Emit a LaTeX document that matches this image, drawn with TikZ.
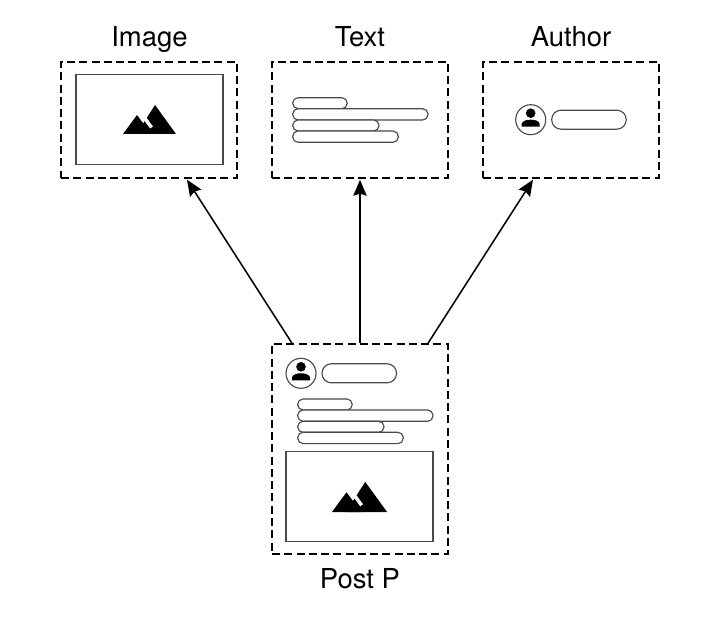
\documentclass[tikz,border=0pt]{standalone}
\usepackage{fontspec}
\setmainfont{TeX Gyre Heros}
\usetikzlibrary{calc,arrows.meta}
\definecolor{linegray}{HTML}{4A4A4A}
\tikzset{
  x=0.75pt,y=-0.75pt,
  ar/.style={-{Stealth[length=12pt,width=10pt,inset=1.5pt]},line width=1.15pt,black},
  dbox/.style={draw=black,line width=1.15pt,dash pattern=on 6pt off 3.2pt,inner sep=0pt,minimum width=132pt},
  imgbox/.style={draw=linegray,line width=0.8pt,inner sep=0pt,minimum width=110.25pt,minimum height=67pt},
  pill/.style={draw=linegray,line width=0.85pt,fill=white,rounded corners=#1},
  title/.style={font=\fontsize{20.6}{22}\selectfont,anchor=base,inner sep=0pt},
  pics/mountain/.style={code={
    \fill[black] (-26.5,0)--(-12.5,-19)--(1.5,0)--cycle;
    \fill[black] (-13,0)--(5.5,-29)--(26.5,0)--cycle;
    \draw[white,line width=2.6pt] (-8.5,-21)--(2,-6.5);
  }},
  pics/avatar/.style={code={
    \draw[linegray,line width=0.85pt] (0,0) circle (11.25pt);
    \fill[black] (0,-6.5) circle (3.6pt);
    \fill[black] (-9,7) -- (-9,4) .. controls (-8,1) and (-4,0) .. (0,0) .. controls (4,0) and (8,1) .. (9,4) -- (9,7) -- cycle;
    \draw[pill=7pt] (21,-9.5) rectangle (95.5,9.5);
  }},
  pics/textlines/.style={code={
    \draw[pill=4pt] (0,0) rectangle (54.5,11);
    \draw[pill=4pt] (0,11) rectangle (135.3,22.3);
    \draw[pill=4pt] (0,22.3) rectangle (86.3,33.3);
    \draw[pill=4pt] (0,33.3) rectangle (105.6,44.6);
  }}
}
\begin{document}
\begin{tikzpicture}
\useasboundingbox (0,0) rectangle (702,620);
% top row
\node[dbox,minimum height=87pt] (image) at (149,120) {};
\node[dbox,minimum height=87pt] (text) at (360,120) {};
\node[dbox,minimum height=87pt] (author) at (571,120) {};
\node[title] (imagelabel) at (149.5,47) {Image};
\node[title] (textlabel) at (360,47) {Text};
\node[title] (authorlabel) at (571,47) {Author};
\node[imgbox] (imagepic) at (149.5,119.6) {};
\pic at (149.5,134) {mountain};
\pic at (292.7,97.7) {textlines};
\pic at (530.7,119.7) {avatar};
% post
\node[dbox,minimum height=157.5pt] (post) at (360,449) {};
\node[title] (postlabel) at (360,588) {Post P};
\pic at (301,373.3) {avatar};
\pic at (297.7,399) {textlines};
\node[imgbox] (postpic) at (359.5,496.6) {};
\pic[scale=1.04] at (359.5,512) {mountain};
% arrows
\coordinate (fromL) at ($(post.north)+(-51pt,0)$);
\coordinate (fromR) at ($(post.north)+(51pt,0)$);
\coordinate (toL) at ($(image.south)+(28.5pt,-0.7pt)$);
\coordinate (toR) at ($(author.south)+(-28.5pt,-0.7pt)$);
\draw[ar] (fromL)--(toL);
\draw[ar] (post.north)--($(text.south)+(0,-0.7pt)$);
\draw[ar] (fromR)--(toR);
\end{tikzpicture}
\end{document}
